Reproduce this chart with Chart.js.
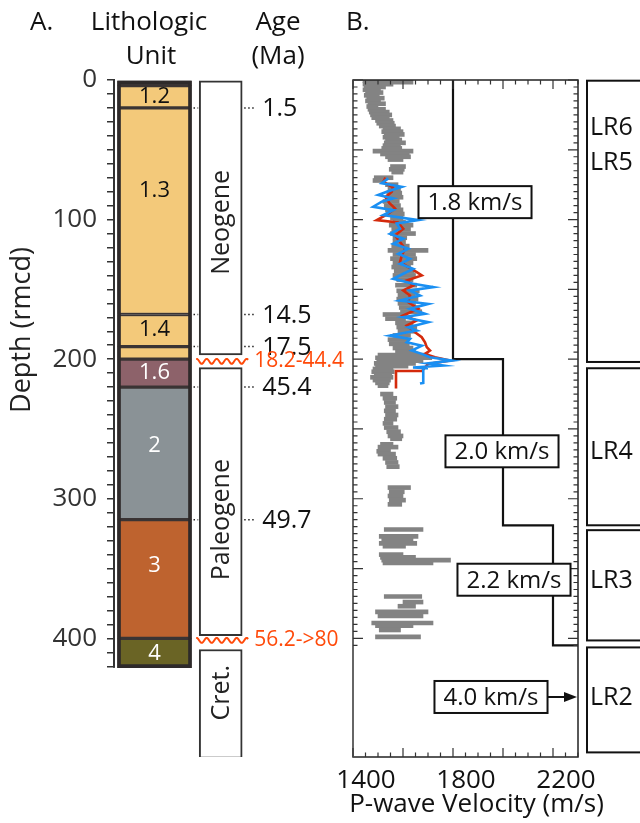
<!DOCTYPE html>
<html>
<head>
<meta charset="utf-8">
<script src="https://cdn.jsdelivr.net/npm/chart.js@4.4.1/dist/chart.umd.min.js"></script>
<style>
  body { margin: 0; background: #fff; }
  #wrap { position: relative; width: 640px; height: 823px; overflow: hidden; }
  canvas { position: absolute; top: 0; }
  #colA { left: 0; }
  #colB { left: 320px; }
</style>
</head>
<body>
<div id="wrap">
  <canvas id="colA" width="350" height="823"></canvas>
  <canvas id="colB" width="320" height="823"></canvas>
</div>
<script>
// ---- Panel A: lithologic units (depth in rmcd)
const unitNames = ['1.1', '1.2', '1.3', '1.4', '1.5', '1.6', '2', '3', '4'];
const unitTop = [0, 4, 20, 168, 191, 200, 220, 315, 400];
const unitBase = [4, 20, 168, 191, 200, 220, 315, 400, 421];
const unitLabelDepth = [null, 12, 79, 179, null, 210, 262, 348, 411];
const unitColors = ['#f3c97a', '#f3c97a', '#f3c97a', '#f3c97a', '#f3c97a', '#8d626a', '#8a9296', '#be632f', '#6a6425'];
const unitTextColors = ['#111', '#111', '#111', '#111', '#111', '#fff', '#fff', '#fff', '#fff'];

const periods = ['Neogene', 'Paleogene', 'Cret.'];
const periodTop = [0, 206, 408];
const periodBase = [197, 398, 486];
const periodLabelDepth = [102, 315, 439];

const ageLabels = ['1.5', '14.5', '17.5', '45.4', '49.7'];
const ageDepths = [20, 168, 191, 220, 315];
const hiatusLabels = ['18.2-44.4', '56.2->80'];
const hiatusDepths = [201.5, 401.5];

// ---- Panel B: P-wave velocity (m/s) vs depth
const grayDepth = [
  0.5, 1.5, 3, 5, 7, 9, 11, 13, 15, 17,
  19, 21, 23, 25, 27, 29, 31, 33, 35, 37,
  39, 41, 43, 45, 47, 49, 51, 53, 55, 57,
  62, 64, 66, 70, 72, 75, 78, 81, 84, 87,
  90, 93, 96, 99, 102, 104, 107, 110, 113, 116,
  119, 122, 125, 128, 131, 134, 137, 140, 143, 147,
  151, 154, 157, 160, 163, 166, 168, 171, 174, 177,
  180, 183, 186, 189, 192, 195, 197, 199, 201, 203,
  205, 207, 209, 211, 213, 215, 217, 219, 225, 228,
  231, 234, 237, 240, 243, 246, 249, 252, 255, 257,
  261, 263, 266, 268, 271, 274, 277, 292, 295, 298,
  301, 304, 322, 327, 329, 332, 334, 340, 342, 344,
  346, 370, 374, 377, 381, 384, 389, 391, 394, 399
];
const grayMin = [
  1440, 1445, 1440, 1445, 1440, 1450, 1445, 1455, 1450, 1460,
  1455, 1460, 1465, 1470, 1475, 1490, 1495, 1505, 1520, 1515,
  1525, 1520, 1530, 1525, 1520, 1515, 1480, 1510, 1530, 1540,
  1550, 1545, 1555, 1485, 1480, 1530, 1540, 1535, 1530, 1520,
  1525, 1530, 1535, 1550, 1560, 1545, 1555, 1550, 1560, 1560,
  1555, 1540, 1560, 1550, 1560, 1555, 1565, 1560, 1575, 1570,
  1575, 1580, 1575, 1580, 1585, 1590, 1520, 1530, 1570, 1575,
  1580, 1560, 1540, 1545, 1560, 1570, 1500, 1490, 1495, 1485,
  1490, 1480, 1475, 1485, 1470, 1480, 1490, 1500, 1510, 1520,
  1525, 1530, 1525, 1530, 1525, 1520, 1525, 1535, 1540, 1550,
  1510, 1500, 1495, 1500, 1520, 1530, 1535, 1540, 1545, 1540,
  1545, 1540, 1525, 1505, 1515, 1505, 1520, 1505, 1510, 1515,
  1520, 1525, 1600, 1580, 1490, 1500, 1475, 1490, 1505, 1490
];
const grayMax = [
  1600, 1640, 1560, 1530, 1510, 1520, 1505, 1525, 1510, 1530,
  1500, 1530, 1545, 1555, 1545, 1560, 1565, 1570, 1590, 1600,
  1605, 1585, 1595, 1610, 1590, 1595, 1640, 1625, 1630, 1600,
  1610, 1605, 1600, 1560, 1530, 1580, 1590, 1595, 1600, 1585,
  1590, 1600, 1605, 1600, 1610, 1640, 1630, 1650, 1615, 1610,
  1625, 1700, 1650, 1655, 1640, 1630, 1645, 1650, 1640, 1655,
  1665, 1650, 1660, 1650, 1665, 1675, 1600, 1610, 1640, 1655,
  1650, 1630, 1620, 1625, 1640, 1650, 1700, 1715, 1680, 1650,
  1620, 1560, 1565, 1555, 1560, 1550, 1545, 1540, 1560, 1575,
  1570, 1580, 1570, 1580, 1575, 1560, 1580, 1590, 1600, 1595,
  1560, 1580, 1550, 1570, 1575, 1580, 1585, 1630, 1605, 1600,
  1610, 1595, 1680, 1660, 1640, 1655, 1610, 1600, 1650, 1790,
  1720, 1675, 1680, 1650, 1700, 1680, 1720, 1640, 1590, 1670
];

const blueDepth = [
  70.5, 74, 76.5, 80, 82.4, 84.8, 87.2, 90.8, 93.2, 96.8,
  100.4, 102.8, 106.6, 110.2, 113.7, 117.3, 120.9, 124.5, 128.1, 131.7,
  135.3, 138.8, 142.4, 146, 148.4, 150.8, 154.4, 158, 160.4, 163.9,
  167.5, 169.9, 173.5, 177.1, 179.5, 183.1, 185.5, 187.9, 190.3, 193.8,
  196.2, 198.6, 201, 203, 204.5, 206, 206.5, 206.5, 217, 217.5
];
const blueVel = [
  1541, 1515, 1595, 1535, 1501, 1561, 1515, 1481, 1561, 1521,
  1661, 1575, 1588, 1548, 1601, 1561, 1621, 1581, 1628, 1588,
  1641, 1601, 1561, 1641, 1721, 1628, 1668, 1588, 1701, 1628,
  1688, 1601, 1701, 1621, 1655, 1548, 1628, 1615, 1675, 1635,
  1675, 1708, 1795, 1700, 1760, 1640, 1700, 1681, 1681, 1668
];

const redDepth = [
  70, 73, 77, 80, 84, 88, 92, 96, 100.4, 102,
  106.6, 111.4, 116.1, 120.9, 125.7, 130.5, 137.6, 140, 143.6, 147.2,
  150.8, 154.4, 159.2, 163.9, 168.7, 172.3, 175.9, 180.7, 184.3, 187.9,
  191.4, 193.8, 196.2, 198.6, 201, 203.4, 208.5, 208.5, 221
];
const redVel = [
  1530, 1521, 1560, 1555, 1530, 1545, 1568, 1540, 1495, 1580,
  1601, 1568, 1588, 1608, 1595, 1588, 1655, 1675, 1615, 1641,
  1601, 1628, 1621, 1661, 1601, 1655, 1615, 1648, 1675, 1688,
  1695, 1708, 1688, 1728, 1788, 1700, 1676, 1572, 1572
];

// interval velocity model (step line)
const stepDepth = [0, 200, 200, 319, 319, 405, 405];
const stepVel = [1800, 1800, 2000, 2000, 2200, 2200, 2300];

const modelLabels = ['1.8 km/s', '2.0 km/s', '2.2 km/s', '4.0 km/s'];
const modelLabelVel = [1888, 1996, 2044, 1952];
const modelLabelDepth = [87.5, 266, 358, 442];

const lrTop = [0.5, 206.5, 322.5, 406.5];
const lrBase = [202, 319, 401.5, 481.7];
const lrNames = ['LR6', 'LR5', 'LR4', 'LR3', 'LR2'];
const lrNameDepth = [33.7, 58.8, 266, 358, 442];

const velTicks = [1400, 1800, 2200];

const FONT = '"Open Sans", "Noto Sans", sans-serif';
const lithX = 39.5;
const periodX = 105.7;

// ---------- Panel A decorations
const columnDecor = {
  id: 'columnDecor',
  afterDatasetsDraw(chart) {
    const { ctx, scales: { x, y } } = chart;
    ctx.save();

    // depth axis line
    ctx.strokeStyle = '#333';
    ctx.lineWidth = 2;
    ctx.beginPath();
    ctx.moveTo(x.left - 1, y.getPixelForValue(0));
    ctx.lineTo(x.left - 1, y.getPixelForValue(421));
    ctx.stroke();

    // unit labels
    ctx.textAlign = 'center';
    ctx.textBaseline = 'middle';
    ctx.font = '22px ' + FONT;
    unitNames.forEach((n, i) => {
      if (unitLabelDepth[i] === null) return;
      ctx.fillStyle = unitTextColors[i];
      ctx.fillText(n, x.getPixelForValue(lithX), y.getPixelForValue(unitLabelDepth[i]));
    });

    // period labels (rotated)
    ctx.fillStyle = '#222';
    ctx.font = '25px ' + FONT;
    periods.forEach((p, i) => {
      ctx.save();
      ctx.translate(x.getPixelForValue(periodX) + 1, y.getPixelForValue(periodLabelDepth[i]));
      ctx.rotate(-Math.PI / 2);
      ctx.fillText(p, 0, 0);
      ctx.restore();
    });

    // age ties with dotted leaders
    const lithRight = x.getPixelForValue(lithX) + 37;
    const perLeft = x.getPixelForValue(periodX) - 21.5;
    const perRight = x.getPixelForValue(periodX) + 21.5;
    ctx.lineWidth = 1.5;
    ctx.strokeStyle = '#222';
    ctx.setLineDash([1.5, 2.5]);
    ctx.font = '25px ' + FONT;
    ctx.textAlign = 'left';
    ageLabels.forEach((a, i) => {
      const py = y.getPixelForValue(ageDepths[i]);
      ctx.beginPath();
      ctx.moveTo(lithRight + 2, py);
      ctx.lineTo(perLeft - 1, py);
      ctx.moveTo(perRight + 2, py);
      ctx.lineTo(perRight + 13, py);
      ctx.stroke();
      ctx.fillStyle = '#111';
      ctx.fillText(a, perRight + 20, py + 1);
    });
    ctx.setLineDash([]);

    // hiatuses: wavy red lines and age ranges
    ctx.strokeStyle = '#ff4a0a';
    ctx.fillStyle = '#ff4a0a';
    ctx.lineWidth = 2;
    ctx.font = '21px ' + FONT;
    hiatusLabels.forEach((h, i) => {
      const py = y.getPixelForValue(hiatusDepths[i]);
      ctx.beginPath();
      for (let px = perLeft - 3; px <= perRight + 6; px += 1) {
        const wy = py + 2.5 * Math.sin((px - perLeft) / 10 * 2 * Math.PI);
        if (px === perLeft - 3) ctx.moveTo(px, wy); else ctx.lineTo(px, wy);
      }
      ctx.stroke();
      ctx.fillText(h, perRight + 12, py);
    });

    // headers
    ctx.fillStyle = '#111';
    ctx.font = '26px ' + FONT;
    ctx.textAlign = 'left';
    ctx.fillText('A.', 30, 23);
    ctx.textAlign = 'center';
    ctx.fillText('Lithologic', 149, 23);
    ctx.fillText('Unit', 151, 57);
    ctx.fillText('Age', 278, 23);
    ctx.fillText('(Ma)', 278, 57);

    // depth axis title
    ctx.save();
    ctx.translate(22, 330);
    ctx.rotate(-Math.PI / 2);
    ctx.fillStyle = '#222';
    ctx.font = '27px ' + FONT;
    ctx.fillText('Depth (rmcd)', 0, 0);
    ctx.restore();

    ctx.restore();
  }
};

new Chart(document.getElementById('colA'), {
  type: 'bar',
  data: {
    datasets: [
      {
        // outer frame of the lithologic column
        data: [{ x: lithX, y: [0, 421] }],
        backgroundColor: 'rgba(0,0,0,0)',
        borderColor: '#2e2a2a',
        borderWidth: 3,
        borderSkipped: false,
        barThickness: 74,
        grouped: false
      },
      {
        data: unitNames.map((n, i) => ({ x: lithX, y: [unitTop[i], unitBase[i]] })),
        backgroundColor: unitColors,
        borderColor: '#3a3434',
        borderWidth: 2,
        borderSkipped: false,
        barThickness: 74,
        grouped: false
      },
      {
        data: periods.map((p, i) => ({ x: periodX, y: [periodTop[i], periodBase[i]] })),
        backgroundColor: '#fff',
        borderColor: '#333',
        borderWidth: 2,
        borderSkipped: false,
        barThickness: 43,
        grouped: false
      }
    ]
  },
  options: {
    responsive: false,
    animation: false,
    layout: { padding: { top: 80, bottom: 66, left: 0, right: 0 } },
    plugins: { legend: { display: false }, tooltip: { enabled: false } },
    scales: {
      x: { type: 'linear', display: false, min: 0, max: 235, offset: false },
      y: {
        type: 'linear',
        reverse: true,
        min: 0,
        max: 485,
        offset: false,
        afterFit(s) { s.width = 115; },
        afterBuildTicks(s) { s.ticks = s.ticks.filter(t => t.value <= 420); },
        ticks: {
          stepSize: 10,
          autoSkip: false,
          padding: 10,
          color: '#333',
          font: { family: FONT, size: 26 },
          callback: v => (v % 100 === 0 ? String(v) : '')
        },
        grid: { drawOnChartArea: false, drawTicks: true, tickLength: 8, color: '#333', lineWidth: 1.5 },
        border: { display: false }
      }
    }
  },
  plugins: [columnDecor]
});

// ---------- Panel B decorations
const velocityDecor = {
  id: 'velocityDecor',
  afterDatasetsDraw(chart) {
    const { ctx, chartArea: a, scales: { x, y } } = chart;
    ctx.save();

    // frame
    ctx.lineWidth = 1.5;
    ctx.strokeStyle = '#222';
    ctx.strokeRect(a.left, a.top, a.right - a.left, a.bottom - a.top);
    ctx.strokeStyle = '#666';
    ctx.lineWidth = 2;
    ctx.beginPath();
    ctx.moveTo(a.left, a.top);
    ctx.lineTo(a.left, a.bottom);
    ctx.stroke();

    // inward ticks, depth every 5 m
    ctx.lineWidth = 1.2;
    ctx.strokeStyle = '#333';
    for (let d = 0; d <= 405; d += 5) {
      const py = y.getPixelForValue(d);
      const len = d % 50 === 0 ? 10 : 4.5;
      ctx.beginPath();
      ctx.moveTo(a.left, py); ctx.lineTo(a.left + len, py);
      ctx.moveTo(a.right, py); ctx.lineTo(a.right - len, py);
      ctx.stroke();
    }
    // inward ticks, velocity every 50 m/s
    for (let v = 1400; v <= 2300; v += 50) {
      const px = x.getPixelForValue(v);
      const len = v % 200 === 0 ? 9 : 4.5;
      ctx.beginPath();
      ctx.moveTo(px, a.bottom); ctx.lineTo(px, a.bottom - len);
      ctx.moveTo(px, a.top); ctx.lineTo(px, a.top + len);
      ctx.stroke();
    }

    // model velocity labels
    ctx.font = '24px ' + FONT;
    ctx.textAlign = 'center';
    ctx.textBaseline = 'middle';
    modelLabels.forEach((t, i) => {
      const cx = x.getPixelForValue(modelLabelVel[i]);
      const cy = y.getPixelForValue(modelLabelDepth[i]);
      const w = ctx.measureText(t).width + 18;
      const h = 32;
      ctx.fillStyle = '#fff';
      ctx.fillRect(cx - w / 2, cy - h / 2, w, h);
      ctx.strokeStyle = '#111';
      ctx.lineWidth = 2;
      ctx.strokeRect(cx - w / 2, cy - h / 2, w, h);
      ctx.fillStyle = '#111';
      ctx.fillText(t, cx, cy + 1);
      if (i === 3) {
        // arrow toward the off-scale 4.0 km/s layer
        const tip = x.getPixelForValue(2296);
        ctx.beginPath();
        ctx.moveTo(cx + w / 2, cy);
        ctx.lineTo(tip - 10, cy);
        ctx.stroke();
        ctx.beginPath();
        ctx.moveTo(tip, cy);
        ctx.lineTo(tip - 13, cy - 5);
        ctx.lineTo(tip - 13, cy + 5);
        ctx.closePath();
        ctx.fill();
      }
    });

    // LR units boxes
    const lrLeft = a.right + 9;
    ctx.strokeStyle = '#111';
    ctx.lineWidth = 2;
    lrTop.forEach((t, i) => {
      const top = y.getPixelForValue(t);
      const bot = y.getPixelForValue(lrBase[i]);
      ctx.strokeRect(lrLeft, top, 80, bot - top);
    });
    ctx.fillStyle = '#111';
    ctx.textAlign = 'left';
    ctx.font = '25px ' + FONT;
    lrNames.forEach((n, i) => {
      ctx.fillText(n, lrLeft + 3, y.getPixelForValue(lrNameDepth[i]) + 1);
    });

    // headers and axis title
    ctx.font = '26px ' + FONT;
    ctx.fillText('B.', 26, 23);
    ctx.textAlign = 'center';
    ctx.font = '26px ' + FONT;
    ctx.fillText('P-wave Velocity (m/s)', (a.left + a.right) / 2 + 11, 805);

    ctx.restore();
  }
};

new Chart(document.getElementById('colB'), {
  type: 'line',
  data: {
    datasets: [
      {
        label: 'blue',
        data: blueDepth.map((d, i) => ({ x: blueVel[i], y: d })),
        borderColor: '#1a8ff2',
        borderWidth: 2.6,
        pointRadius: 0,
        tension: 0
      },
      {
        label: 'red',
        data: redDepth.map((d, i) => ({ x: redVel[i], y: d })),
        borderColor: '#d42a0c',
        borderWidth: 2.6,
        pointRadius: 0,
        tension: 0
      },
      {
        label: 'model',
        data: stepDepth.map((d, i) => ({ x: stepVel[i], y: d })),
        borderColor: '#111',
        borderWidth: 2.2,
        pointRadius: 0,
        tension: 0
      },
      {
        type: 'bar',
        label: 'logs',
        indexAxis: 'y',
        data: grayDepth.map((d, i) => ({ y: d, x: [grayMin[i], grayMax[i]] })),
        backgroundColor: '#838383',
        borderWidth: 0,
        barThickness: 4,
        grouped: false
      }
    ]
  },
  options: {
    responsive: false,
    animation: false,
    layout: { padding: { top: 80, bottom: 0, left: 33, right: 62 } },
    plugins: { legend: { display: false }, tooltip: { enabled: false } },
    scales: {
      x: {
        type: 'linear',
        min: 1400,
        max: 2300,
        offset: false,
        position: 'bottom',
        afterFit(s) { s.height = 66; },
        afterBuildTicks(s) { s.ticks = velTicks.map(v => ({ value: v })); },
        ticks: {
          autoSkip: false,
          maxRotation: 0,
          labelOffset: 13,
          padding: 0,
          color: '#111',
          font: { family: FONT, size: 26 },
          callback: v => String(v)
        },
        grid: { display: false },
        border: { display: false }
      },
      y: { type: 'linear', reverse: true, min: 0, max: 485, offset: false, display: false }
    }
  },
  plugins: [velocityDecor]
});
</script>
</body>
</html>
